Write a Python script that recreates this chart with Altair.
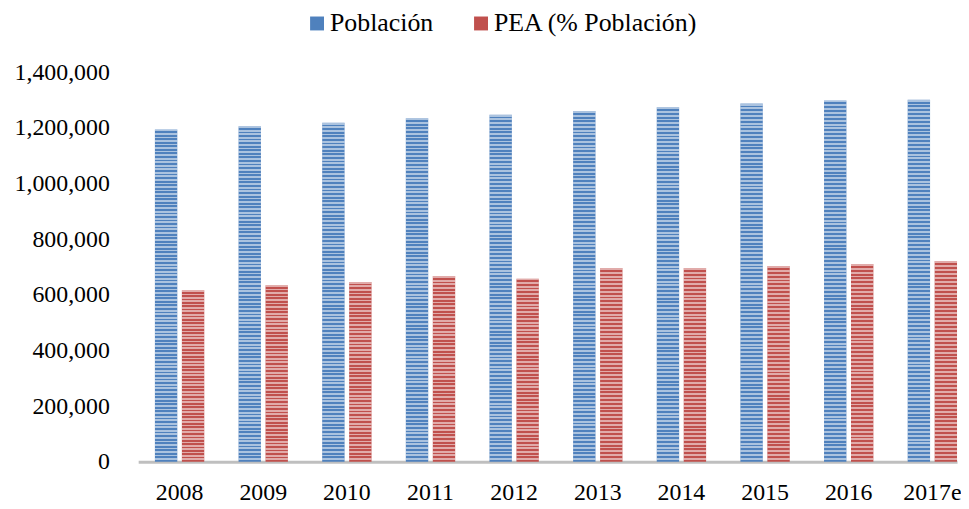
import altair as alt
import pandas as pd

years = ["2008", "2009", "2010", "2011", "2012", "2013", "2014", "2015", "2016", "2017e"]
poblacion = [1194000, 1206000, 1218000, 1234000, 1247000, 1260000, 1274000, 1287000, 1298000, 1301000]
pea = [616000, 634000, 646000, 667000, 658000, 696000, 696000, 703000, 711000, 721000]
series = ["Población", "PEA (% Población)"]
colors = ["#4F81BD", "#C0504D"]
y_ticks = [0, 200000, 400000, 600000, 800000, 1000000, 1200000, 1400000]

rows = []
for i, yr in enumerate(years):
    rows.append({"year": yr, "serie": series[0], "valor": poblacion[i]})
    rows.append({"year": yr, "serie": series[1], "valor": pea[i]})
df = pd.DataFrame(rows)

FONT = "Liberation Serif"


def stripes(n):
    stops = []
    light = "rgba(255,255,255,0.52)"
    clear = "rgba(255,255,255,0)"
    for i in range(n):
        a = i / n
        m = (i + 0.5) / n
        b = (i + 1) / n
        stops += [
            alt.GradientStop(color=light, offset=a),
            alt.GradientStop(color=light, offset=m),
            alt.GradientStop(color=clear, offset=m),
            alt.GradientStop(color=clear, offset=b),
        ]
    return alt.LinearGradient(gradient="linear", stops=stops, x1=0, x2=0, y1=0, y2=1)


x_enc = alt.X(
    "year:N",
    sort=years,
    scale=alt.Scale(paddingInner=0.41, paddingOuter=0.1, align=1),
    axis=alt.Axis(
        title=None,
        labelAngle=0,
        labelFont=FONT,
        labelFontSize=24,
        labelColor="black",
        labelPadding=19,
        ticks=False,
        domainColor="#BFBFBF",
        domainWidth=3,
        grid=False,
    ),
)
xoff_enc = alt.XOffset(
    "serie:N", sort=series, scale=alt.Scale(domain=series, paddingInner=0.17, paddingOuter=0)
)
y_enc = alt.Y(
    "valor:Q",
    scale=alt.Scale(domain=[0, 1400000], nice=False),
    axis=alt.Axis(
        title=None,
        values=y_ticks,
        format=",.0f",
        labelFont=FONT,
        labelFontSize=24,
        labelColor="black",
        labelPadding=29,
        ticks=False,
        domain=False,
        grid=False,
    ),
)

base = alt.Chart(df)

bars = base.mark_bar().encode(
    x=x_enc,
    xOffset=xoff_enc,
    y=y_enc,
    color=alt.Color(
        "serie:N",
        sort=series,
        scale=alt.Scale(domain=series, range=colors),
        legend=alt.Legend(
            title=None,
            orient="none",
            direction="horizontal",
            legendX=167,
            legendY=-62,
            symbolType="square",
            symbolSize=196,
            symbolStrokeWidth=0,
            labelFont=FONT,
            labelFontSize=26,
            labelColor="black",
            labelOffset=0,
            labelLimit=400,
            columnPadding=35,
            padding=0,
        ),
    ),
)

stripe_blue = (
    base.transform_filter(alt.datum.serie == series[0])
    .mark_bar(color=stripes(94))
    .encode(x=x_enc, xOffset=xoff_enc, y=y_enc)
)
stripe_red = (
    base.transform_filter(alt.datum.serie == series[1])
    .mark_bar(color=stripes(51))
    .encode(x=x_enc, xOffset=xoff_enc, y=y_enc)
)

chart = (
    alt.layer(bars, stripe_blue, stripe_red)
    .properties(
        width=824,
        height=392,
        autosize=alt.AutoSizeParams(type="none"),
        padding={"left": 131, "top": 63, "right": 4, "bottom": 44},
        background="white",
    )
    .configure_view(stroke=None)
)

chart.save("out.html", embed_options={"renderer": "svg", "actions": False})
